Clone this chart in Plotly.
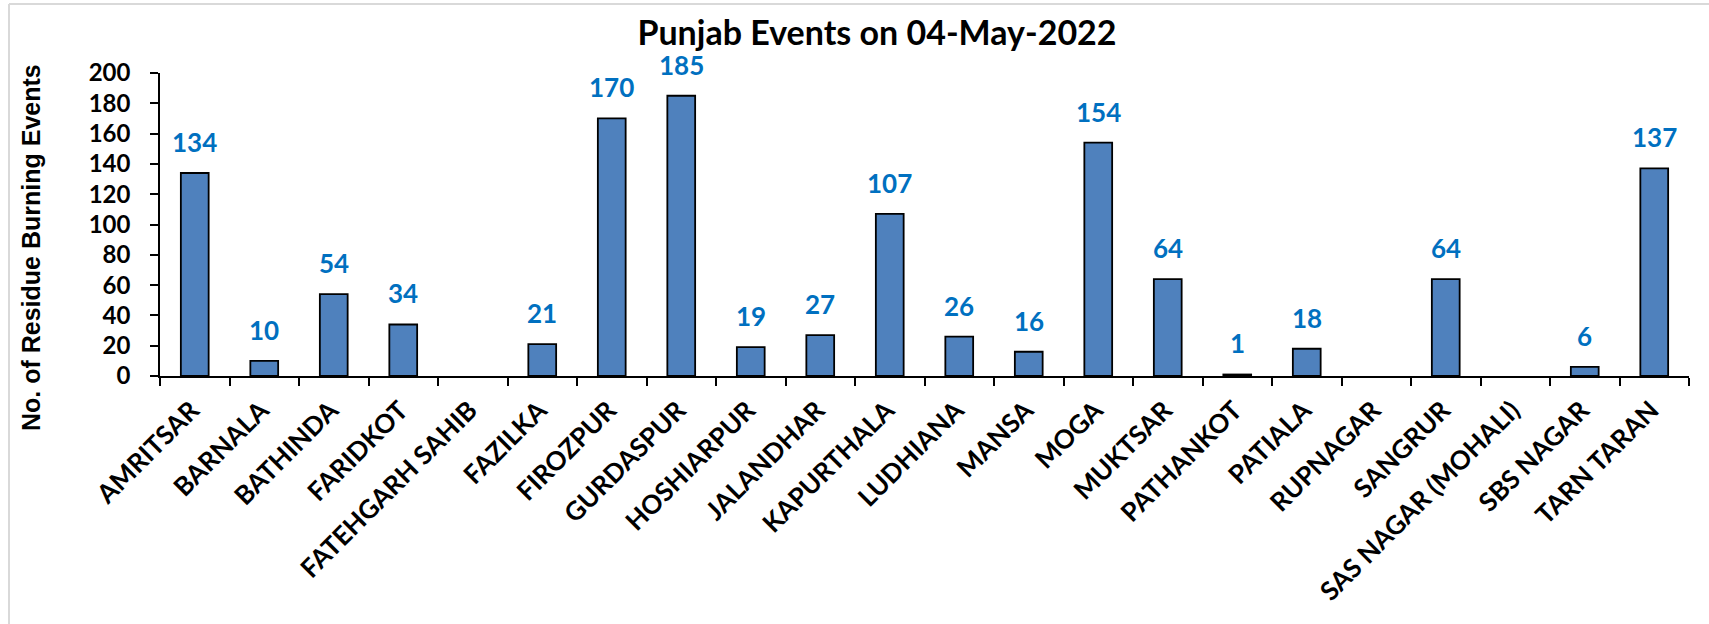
import plotly.graph_objects as go

districts = ["AMRITSAR", "BARNALA", "BATHINDA", "FARIDKOT", "FATEHGARH SAHIB", "FAZILKA",
             "FIROZPUR", "GURDASPUR", "HOSHIARPUR", "JALANDHAR", "KAPURTHALA", "LUDHIANA",
             "MANSA", "MOGA", "MUKTSAR", "PATHANKOT", "PATIALA", "RUPNAGAR", "SANGRUR",
             "SAS NAGAR (MOHALI)", "SBS NAGAR", "TARN TARAN"]
events = [134, 10, 54, 34, None, 21, 170, 185, 19, 27, 107, 26, 16, 154, 64, 1, 18, None, 64,
          None, 6, 137]
y_ticks = [0, 20, 40, 60, 80, 100, 120, 140, 160, 180, 200]

W, H = 1709, 624
L, R, T, B = 160, 20, 73, 248
pw = W - L - R
ph = H - T - B

FONT = "Lato"

fig = go.Figure()
fig.add_trace(go.Bar(
    x=districts, y=events,
    marker=dict(color="#4F81BD", line=dict(color="black", width=1.8)),
    hoverinfo="x+y",
))

annotations = []
for d, v in zip(districts, events):
    if v is None:
        continue
    annotations.append(dict(
        x=d, y=v, xref="x", yref="y", text=str(v), showarrow=False,
        yanchor="bottom", yshift=13,
        font=dict(family=FONT, size=26, color="#0070C0", weight="bold"),
    ))

annotations.append(dict(
    x=(31 - L) / pw, y=(H - B - 248) / ph, xref="paper", yref="paper",
    text="<b>No. of Residue Burning Events</b>", textangle=-90, showarrow=False,
    xanchor="center", yanchor="middle",
    font=dict(family="Liberation Sans", size=25, color="black"),
))

fig.update_layout(
    width=W, height=H,
    margin=dict(l=L, r=R, t=T, b=B),
    paper_bgcolor="white", plot_bgcolor="white",
    bargap=0.6,
    showlegend=False,
    title=dict(text="<b>Punjab Events on 04-May-2022</b>", x=877 / W, xanchor="center",
               y=1 - 33 / H, yanchor="middle",
               font=dict(family=FONT, size=34, color="black")),
    annotations=annotations,
    shapes=[
        dict(type="line", xref="paper", yref="paper", x0=(9 - L) / pw, x1=(W + 5 - L) / pw,
             y0=(H - B - 4) / ph, y1=(H - B - 4) / ph, line=dict(color="#D9D9D9", width=2)),
        dict(type="line", xref="paper", yref="paper", x0=(9 - L) / pw, x1=(9 - L) / pw,
             y0=(H - B - 4) / ph, y1=-(B + 5) / ph, line=dict(color="#D9D9D9", width=2)),
    ],
)

fig.update_xaxes(
    type="category", tickangle=-45, tickson="boundaries",
    ticks="outside", ticklen=8, tickcolor="black", tickwidth=1.5,
    showline=True, linecolor="black", linewidth=1.5, showgrid=False, automargin=False,
    ticklabelshift=-3, ticklabelstandoff=7,
    tickfont=dict(family=FONT, size=26, color="black", weight="bold"),
)
fig.update_yaxes(
    range=[0, 200], tickvals=y_ticks, ticks="outside", ticklen=8, tickcolor="black",
    tickwidth=1.5, showline=True, linecolor="black", linewidth=1.5, showgrid=False,
    zeroline=False, ticklabelstandoff=15, automargin=False,
    tickfont=dict(family=FONT, size=24, color="black", weight="bold"),
)

fig.write_html("out.html", config={"displayModeBar": False},
               post_script="document.body.style.margin='0';")
